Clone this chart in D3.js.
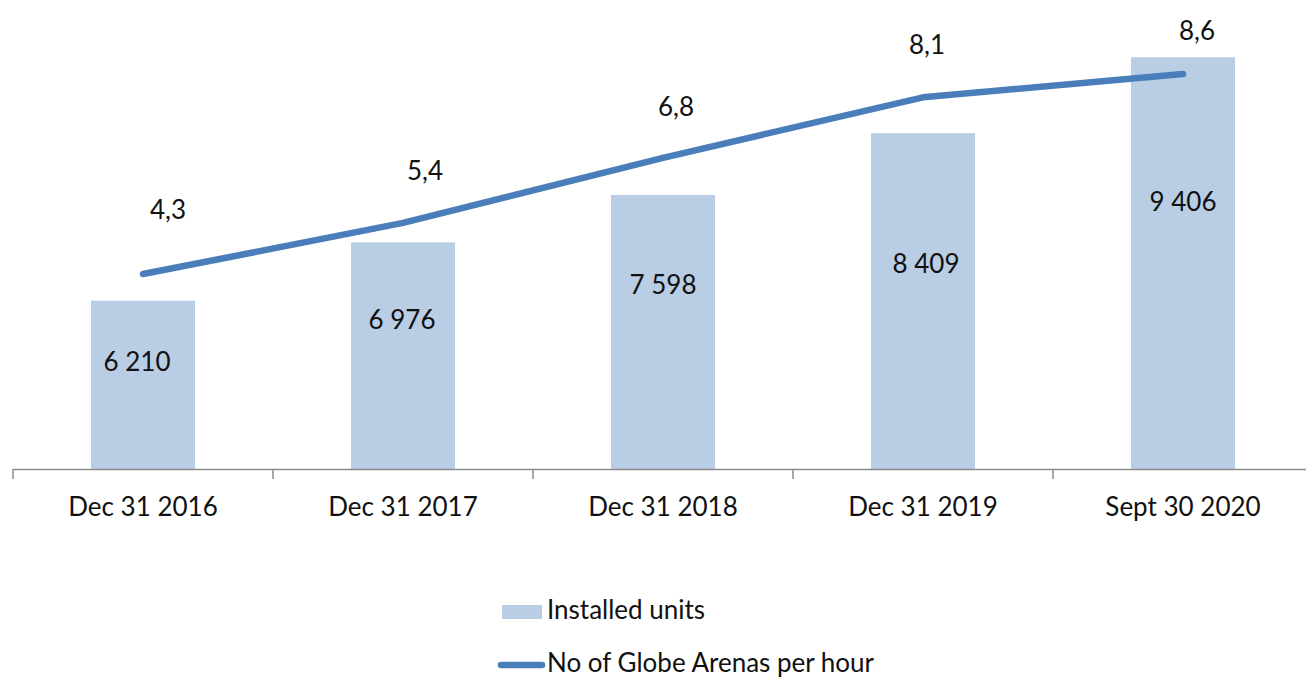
<!DOCTYPE html>
<html>
<head>
<meta charset="utf-8">
<script src="https://cdn.jsdelivr.net/npm/d3@7"></script>
<style>
  body { margin: 0; background: #fff; }
  svg { display: block; }
  text { font-family: Lato, "Liberation Sans", sans-serif; fill: #111; }
</style>
</head>
<body>
<div id="chart"></div>
<script>
// data
const categories = ['Dec 31 2016', 'Dec 31 2017', 'Dec 31 2018', 'Dec 31 2019', 'Sept 30 2020'];
const installedUnits = [6210, 6976, 7598, 8409, 9406];
const arenasPerHour = [4.3, 5.4, 6.8, 8.1, 8.6];
const unitsDomain = [4000, 10000];
const arenasDomain = [0, 10];

// label nudges (labels were hand-placed in the original)
const barLabelDx = [-6, -1, 0, 3, 0];
const barLabelDy = [61, 77, 90, 130, 144];
const lineLabelDx = [25, 22, 13, 4, 14];
const lineLabelDy = [-64, -52, -51, -53, -44];

const W = 1306, H = 678;
const plot = { left: 13, right: 1313, top: 12, bottom: 469 };

const locale = d3.formatLocale({ decimal: ',', thousands: ' ', grouping: [3], currency: ['', ''] });
const fmtUnits = locale.format(',d');
const fmtArenas = locale.format('.1f');

const svg = d3.select('#chart').append('svg')
  .attr('width', W)
  .attr('height', H);

const x = d3.scaleBand()
  .domain(categories)
  .range([plot.left, plot.right])
  .paddingInner(0.6)
  .paddingOuter(0.3);

const y = d3.scaleLinear().domain(unitsDomain).range([plot.bottom, plot.top]);
const y2 = d3.scaleLinear().domain(arenasDomain).range([plot.bottom + 5, plot.top - 3]);

const cx = c => x(c) + x.bandwidth() / 2;

// bars
svg.append('g')
  .selectAll('rect')
  .data(categories)
  .join('rect')
  .attr('x', d => x(d))
  .attr('y', (d, i) => y(installedUnits[i]))
  .attr('width', x.bandwidth())
  .attr('height', (d, i) => plot.bottom - y(installedUnits[i]))
  .attr('fill', '#b9cde5');

// x axis: line with ticks between categories
const axis = svg.append('g').attr('stroke', '#8c8c8c').attr('stroke-width', 1.5);
axis.append('line')
  .attr('x1', plot.left).attr('x2', W)
  .attr('y1', plot.bottom + 0.5).attr('y2', plot.bottom + 0.5);
axis.selectAll('line.tick')
  .data(categories)
  .join('line')
  .attr('class', 'tick')
  .attr('x1', d => x(d) - x.step() * 0.3)
  .attr('x2', d => x(d) - x.step() * 0.3)
  .attr('y1', plot.bottom)
  .attr('y2', plot.bottom + 10);

svg.append('g')
  .selectAll('text')
  .data(categories)
  .join('text')
  .attr('x', d => cx(d))
  .attr('y', 516)
  .attr('text-anchor', 'middle')
  .attr('font-size', 26)
  .text(d => d);

// line
const line = d3.line()
  .x((d, i) => cx(categories[i]))
  .y(d => y2(d));

svg.append('path')
  .datum(arenasPerHour)
  .attr('d', line)
  .attr('fill', 'none')
  .attr('stroke', '#4a7ebb')
  .attr('stroke-width', 6.5)
  .attr('stroke-linecap', 'round')
  .attr('stroke-linejoin', 'round');

// bar value labels
svg.append('g')
  .selectAll('text')
  .data(installedUnits)
  .join('text')
  .attr('x', (d, i) => cx(categories[i]) + barLabelDx[i])
  .attr('y', (d, i) => y(d) + barLabelDy[i] + 9.4)
  .attr('text-anchor', 'middle')
  .attr('font-size', 26)
  .text(d => fmtUnits(d));

// line value labels
svg.append('g')
  .selectAll('text')
  .data(arenasPerHour)
  .join('text')
  .attr('x', (d, i) => cx(categories[i]) + lineLabelDx[i])
  .attr('y', (d, i) => y2(d) + lineLabelDy[i] + 9.4)
  .attr('text-anchor', 'middle')
  .attr('font-size', 26)
  .text(d => fmtArenas(d));

// legend
const legend = svg.append('g');
legend.append('rect')
  .attr('x', 502).attr('y', 605)
  .attr('width', 40).attr('height', 14)
  .attr('fill', '#b9cde5');
legend.append('text')
  .attr('x', 547).attr('y', 619)
  .attr('font-size', 26)
  .text('Installed units');
legend.append('line')
  .attr('x1', 501).attr('x2', 542)
  .attr('y1', 665).attr('y2', 665)
  .attr('stroke', '#4a7ebb')
  .attr('stroke-width', 6.5)
  .attr('stroke-linecap', 'round');
legend.append('text')
  .attr('x', 547).attr('y', 672)
  .attr('font-size', 26)
  .text('No of Globe Arenas per hour');
</script>
</body>
</html>
